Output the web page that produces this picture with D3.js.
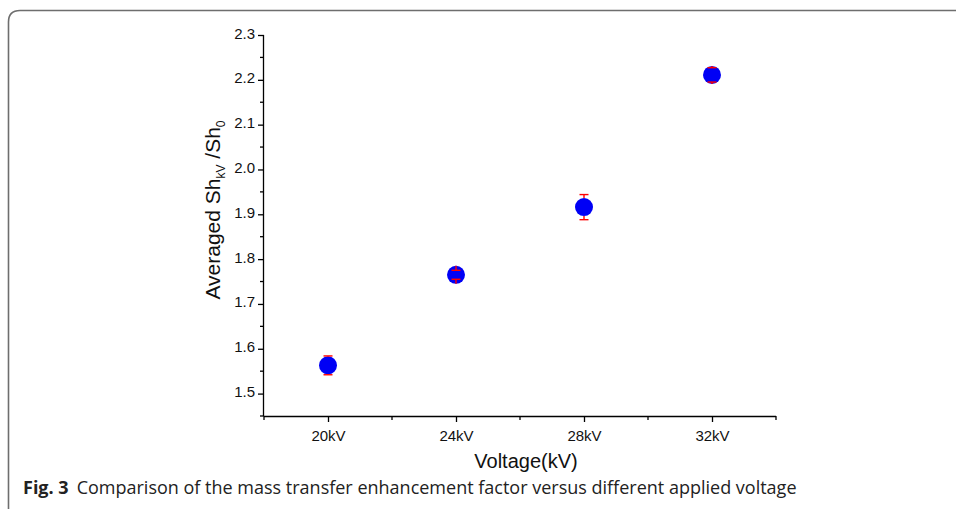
<!DOCTYPE html>
<html><head><meta charset="utf-8">
<script src="https://cdn.jsdelivr.net/npm/d3@7"></script>
<style>body{margin:0;background:#fff;}svg{display:block;}</style>
</head><body>
<svg id="c" width="956" height="509"></svg>
<script>
const voltages = [20, 24, 28, 32];
const values = [1.563, 1.765, 1.916, 2.211];
const errors = [0.021, 0.010, 0.028, 0.016];
const xTickValues = [20, 24, 28, 32];
const xTickLabels = ["20kV", "24kV", "28kV", "32kV"];
const yTickValues = [1.5, 1.6, 1.7, 1.8, 1.9, 2.0, 2.1, 2.2, 2.3];

const svg = d3.select("#c");
const x = d3.scaleLinear().domain([18, 34]).range([264, 776]);
const y = d3.scaleLinear().domain([1.45, 2.3]).range([416, 35]);

// frame
svg.append("path")
  .attr("d", "M8.5,509 L8.5,22 Q8.5,10.5 20,10.5 L956,10.5")
  .attr("fill", "none").attr("stroke", "#6e6e6e").attr("stroke-width", 1.6);

const font = "'Liberation Sans', Arial, sans-serif";

// x axis
const xAxis = d3.axisBottom(x).tickValues(xTickValues)
  .tickFormat((d, i) => xTickLabels[i]).tickSizeInner(6).tickSizeOuter(0);
const gx = svg.append("g").attr("transform", "translate(0,416)").call(xAxis);
gx.attr("font-size", null).attr("font-family", null);
gx.select(".domain").attr("stroke", "#000").attr("stroke-width", 1.3).attr("d", "M" + x(18) + ",0.5H" + x(34));
gx.selectAll(".tick line").attr("stroke", "#000").attr("stroke-width", 1.3);
gx.selectAll(".tick text").attr("font-family", font).attr("font-size", 15).attr("fill", "#111")
  .attr("y", 25).attr("dy", null);
// minor x ticks
svg.append("g").selectAll("line").data([18, 22, 26, 30, 34]).join("line")
  .attr("x1", d => x(d)).attr("x2", d => x(d)).attr("y1", 416).attr("y2", 420)
  .attr("stroke", "#000").attr("stroke-width", 1.3);

// y axis
const yAxis = d3.axisLeft(y).tickValues(yTickValues).tickFormat(d3.format(".1f"))
  .tickSizeInner(6).tickSizeOuter(0);
const gy = svg.append("g").attr("transform", "translate(264,0)").call(yAxis);
gy.attr("font-size", null).attr("font-family", null);
gy.select(".domain").attr("stroke", "#000").attr("stroke-width", 1.3).attr("d", "M-0.5," + y(2.3) + "V" + y(1.45));
gy.selectAll(".tick line").attr("stroke", "#000").attr("stroke-width", 1.3);
gy.selectAll(".tick text").attr("font-family", font).attr("font-size", 15).attr("fill", "#111")
  .attr("x", -9).attr("dy", "0.2em");
// minor y ticks
const yMinor = [1.45, 1.55, 1.65, 1.75, 1.85, 1.95, 2.05, 2.15, 2.25];
svg.append("g").selectAll("line").data(yMinor).join("line")
  .attr("x1", 264).attr("x2", 260).attr("y1", d => y(d)).attr("y2", d => y(d))
  .attr("stroke", "#000").attr("stroke-width", 1.3);

// axis titles
svg.append("text").attr("x", 526).attr("y", 468).attr("text-anchor", "middle")
  .attr("font-family", font).attr("font-size", 20).attr("fill", "#111").text("Voltage(kV)");
const yt = svg.append("text").attr("transform", "translate(220,210) rotate(-90)")
  .attr("text-anchor", "middle").attr("font-family", font).attr("font-size", 21).attr("fill", "#111");
yt.append("tspan").text("Averaged Sh");
yt.append("tspan").attr("font-size", 12).attr("dy", 5).text("kV");
yt.append("tspan").attr("dy", -5).text(" /Sh");
yt.append("tspan").attr("font-size", 12).attr("dy", 5).text("0");

// points
const data = voltages.map((v, i) => ({v, val: values[i], e: errors[i]}));
const r = 9;
svg.append("g").selectAll("circle").data(data).join("circle")
  .attr("cx", d => x(d.v)).attr("cy", d => y(d.val)).attr("r", r).attr("fill", "#0000f5");

// error bars (Origin style: from marker edge to cap)
const eb = svg.append("g").attr("stroke", "#ff0000").attr("stroke-width", 1.4);
data.forEach(d => {
  const cx = x(d.v), cy = y(d.val);
  const top = y(d.val + d.e), bot = y(d.val - d.e);
  eb.append("line").attr("x1", cx).attr("x2", cx).attr("y1", cy - r).attr("y2", top);
  eb.append("line").attr("x1", cx).attr("x2", cx).attr("y1", cy + r).attr("y2", bot);
  eb.append("line").attr("x1", cx - 4.5).attr("x2", cx + 4.5).attr("y1", top).attr("y2", top);
  eb.append("line").attr("x1", cx - 4.5).attr("x2", cx + 4.5).attr("y1", bot).attr("y2", bot);
});

// caption
const cap = svg.append("text").attr("x", 23).attr("y", 494)
  .attr("font-family", "'Open Sans', 'Noto Sans', sans-serif").attr("font-size", 18).attr("fill", "#222");
cap.append("tspan").attr("font-weight", "bold").text("Fig. 3");
cap.append("tspan").attr("dx", 8).text("Comparison of the mass transfer enhancement factor versus different applied voltage");
</script>
</body></html>
